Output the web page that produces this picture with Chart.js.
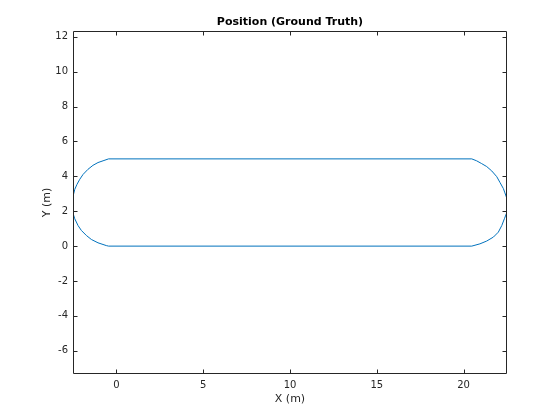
<!DOCTYPE html>
<html>
<head>
<meta charset="utf-8">
<script src="https://cdn.jsdelivr.net/npm/chart.js@4.4.1/dist/chart.umd.min.js"></script>
<style>
  body { margin: 0; background: #fff; }
  #chart { display: block; }
</style>
</head>
<body>
<canvas id="chart" width="560" height="420"></canvas>
<script>
// path, going round the loop
const pathX = [
  -0.45, 20.47,
  20.94, 21.33, 21.72, 22.0, 22.2, 22.35, 22.48, 22.5, 22.47, 22.38, 22.29, 22.1, 21.91,
  21.62, 21.33, 21.04, 20.75, 20.47,
  -0.45,
  -0.77, -1.06, -1.35, -1.64, -1.92, -2.11, -2.27, -2.4, -2.47, -2.5, -2.5, -2.47, -2.4,
  -2.21, -2.02, -1.73, -1.44, -1.06, -0.58, -0.45,
];
const pathY = [
  0, 0,
  0.13, 0.29, 0.52, 0.8, 1.18, 1.57, 1.9, 2.4, 2.8, 3.05, 3.3, 3.64, 3.98,
  4.31, 4.56, 4.73, 4.89, 5,
  5,
  4.89, 4.79, 4.63, 4.4, 4.11, 3.83, 3.54, 3.25, 2.97, 2.6, 2.1, 1.85, 1.57,
  1.18, 0.9, 0.61, 0.38, 0.19, 0.03, 0,
];
const xTicks = [0, 5, 10, 15, 20];
const yTicks = [-6, -4, -2, 0, 2, 4, 6, 8, 10, 12];
const xRange = [-2.5, 22.5];
const yRange = [-7.33, 12.33];
const titleText = "Position (Ground Truth)";

const axisColor = "#262626";
const font = "'DejaVu Sans', sans-serif";

// MATLAB style box with inward ticks, title centred over the axes
const boxTicks = {
  id: "boxTicks",
  afterDraw(chart) {
    const { ctx, chartArea: a, scales } = chart;
    const l = a.left + 0.5, r = a.right - 0.5, t = a.top + 0.5, b = a.bottom - 0.5;
    const len = 4;
    ctx.save();
    ctx.strokeStyle = axisColor;
    ctx.lineWidth = 1;
    ctx.beginPath();
    ctx.rect(l, t, r - l, b - t);
    xTicks.forEach((v) => {
      const px = Math.round(scales.x.getPixelForValue(v)) + 0.5;
      ctx.moveTo(px, b);
      ctx.lineTo(px, b - len);
      ctx.moveTo(px, t);
      ctx.lineTo(px, t + len);
    });
    yTicks.forEach((v) => {
      const py = Math.round(scales.y.getPixelForValue(v)) + 0.5;
      ctx.moveTo(l, py);
      ctx.lineTo(l + len, py);
      ctx.moveTo(r, py);
      ctx.lineTo(r - len, py);
    });
    ctx.stroke();

    ctx.fillStyle = "#000";
    ctx.font = "bold 11px " + font;
    ctx.textAlign = "center";
    ctx.textBaseline = "middle";
    ctx.fillText(titleText, (a.left + a.right) / 2, a.top - 9);
    ctx.restore();
  },
};

const ctx = document.getElementById("chart");

new Chart(ctx, {
  type: "scatter",
  data: {
    datasets: [
      {
        label: "Position",
        data: pathX.map((x, i) => ({ x: x, y: pathY[i] })),
        showLine: true,
        borderColor: "#0072BD",
        borderWidth: 1,
        pointRadius: 0,
        tension: 0,
      },
    ],
  },
  options: {
    responsive: false,
    animation: false,
    events: [],
    layout: {
      padding: { left: 0, right: 53, top: 31, bottom: 0 },
    },
    scales: {
      x: {
        type: "linear",
        min: xRange[0],
        max: xRange[1],
        afterBuildTicks: (s) => {
          s.ticks = xTicks.map((v) => ({ value: v }));
        },
        afterFit: (s) => {
          s.height = 46;
        },
        grid: { display: false, drawTicks: false },
        border: { display: false },
        ticks: {
          color: axisColor,
          padding: 5,
          maxRotation: 0,
          font: { family: font, size: 10 },
        },
        title: {
          display: true,
          text: "X (m)",
          color: axisColor,
          font: { family: font, size: 11 },
          padding: { top: 0, bottom: 14.4 },
        },
      },
      y: {
        type: "linear",
        min: yRange[0],
        max: yRange[1],
        afterBuildTicks: (s) => {
          s.ticks = yTicks.map((v) => ({ value: v }));
        },
        afterFit: (s) => {
          s.width = 73;
        },
        grid: { display: false, drawTicks: false },
        border: { display: false },
        ticks: {
          color: axisColor,
          padding: 5,
          font: { family: font, size: 10 },
        },
        title: {
          display: true,
          text: "Y (m)",
          color: axisColor,
          font: { family: font, size: 11 },
          padding: { top: 40.4, bottom: 0 },
        },
      },
    },
    plugins: {
      legend: { display: false },
      tooltip: { enabled: false },
      title: { display: false },
    },
  },
  plugins: [boxTicks],
});
</script>
</body>
</html>
